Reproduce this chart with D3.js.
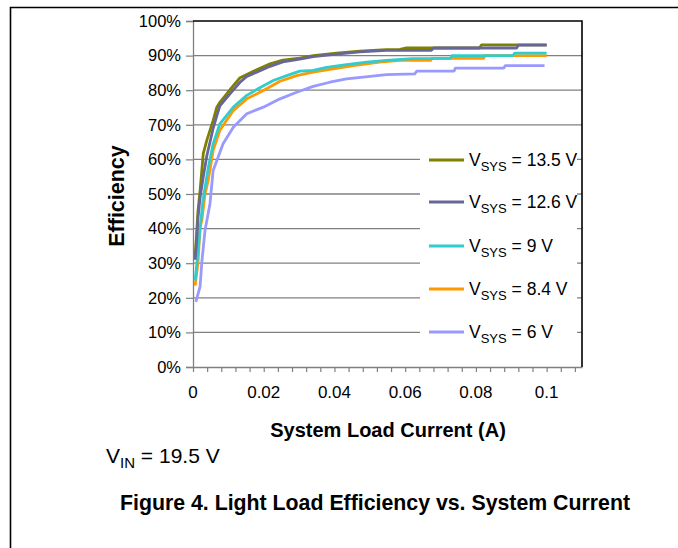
<!DOCTYPE html>
<html><head><meta charset="utf-8">
<script src="https://cdn.jsdelivr.net/npm/d3@7"></script>
<style>
body{margin:0;background:#fff;}
text{font-family:"Liberation Sans",Arial,sans-serif;fill:#000;}
</style></head>
<body>
<svg id="c" width="678" height="548"></svg>
<script>
// ---- data ----
const seriesNames = ["13.5 V", "12.6 V", "9 V", "8.4 V", "6 V"];
const seriesColors = ["#808000", "#666699", "#33CCCC", "#FF9900", "#9999FF"];

const current135 = [0.0006,0.001,0.0014,0.002,0.0029,0.0039,0.0057,0.0067,0.0076,0.0105,0.0133,0.018,0.0218,0.0254,0.0302,0.034,0.0406,0.0472,0.0547,0.0585,0.0604,0.081,0.0816,0.1];
const eff135     = [32,38,45,51,61.7,65.5,71.3,75,76.5,80.2,83.6,85.9,87.6,88.7,89.3,90,90.7,91.3,91.7,91.8,92.2,92.2,93.1,93.1];

const current126 = [0.0006,0.001,0.0014,0.002,0.0029,0.0039,0.0057,0.0067,0.0076,0.0105,0.0133,0.0152,0.018,0.0218,0.0254,0.0302,0.034,0.0406,0.0472,0.0547,0.0674,0.068,0.0915,0.092,0.1];
const eff126     = [31,36,43,49,55,61,69,72.5,75.5,79,82.3,84,85.2,86.9,88.2,89,89.7,90.4,91.1,91.5,91.5,92.2,92.2,93,93];

const current9   = [0.0006,0.0014,0.002,0.0028,0.0039,0.0044,0.0057,0.0076,0.0114,0.0152,0.0189,0.0227,0.0265,0.0302,0.034,0.0378,0.0434,0.0491,0.0547,0.0621,0.0728,0.0732,0.0904,0.091,0.1];
const eff9       = [25,33,40,48,55,58,64.5,70.3,75.1,78.5,80.7,82.8,84.2,85.5,85.7,86.6,87.4,88.1,88.6,89.1,89.2,90,90,90.7,90.7];

const current84  = [0.0006,0.0014,0.002,0.0025,0.0034,0.0043,0.0057,0.0076,0.0095,0.0114,0.0152,0.0199,0.0246,0.0293,0.034,0.0396,0.0453,0.0528,0.0585,0.0672,0.0676,0.0822,0.0826,0.1];
const eff84      = [23.5,30,40.4,42.4,50,54,62.6,68.4,71.3,74.1,77.5,79.9,82.6,84.2,85.2,86.2,87.1,88.1,88.6,88.6,89.2,89.2,90,90];

const current6   = [0.0008,0.002,0.0025,0.0034,0.0048,0.0057,0.0085,0.0114,0.0152,0.0199,0.0246,0.0293,0.034,0.0387,0.0434,0.0481,0.0547,0.0627,0.0633,0.0738,0.0742,0.0879,0.0883,0.0994];
const eff6       = [18.8,23.2,30.4,39.5,47.2,56.8,64.5,69.3,73.2,75.1,77.5,79.4,81.1,82.3,83.3,83.8,84.5,84.7,85.5,85.5,86.4,86.4,87.1,87.1];

const xTickLabels = [0, 0.02, 0.04, 0.06, 0.08, 0.1];
const yTickLabels = [0,10,20,30,40,50,60,70,80,90,100];

const seriesX = [current135, current126, current9, current84, current6];
const seriesY = [eff135, eff126, eff9, eff84, eff6];

// ---- layout ----
const svg = d3.select("#c");
const L = 193, R = 582, T = 21, B = 367;
const x = d3.scaleLinear().domain([0, 0.11]).range([L, R]);
const y = d3.scaleLinear().domain([0, 100]).range([B, T]);

// outer frame
svg.append("path").attr("d", `M10.5,548 V7.5 H678`).attr("fill","none").attr("stroke","#000").attr("stroke-width",1.6);

// gridlines
svg.append("g").selectAll("line").data(yTickLabels.filter(d=>d>0 && d<100)).join("line")
  .attr("x1", L).attr("x2", R).attr("y1", d=>y(d)).attr("y2", d=>y(d))
  .attr("stroke","#808080").attr("stroke-width",1.3);

// y axis
const yAxis = d3.axisLeft(y).tickValues(yTickLabels).tickFormat(d=>d+"%").tickSize(7).tickPadding(5);
const gy = svg.append("g").attr("transform",`translate(${L},0)`).call(yAxis);
gy.select(".domain").attr("stroke","#808080").attr("stroke-width",1.3);
gy.selectAll(".tick line").attr("stroke","#808080").attr("stroke-width",1.2);
gy.selectAll(".tick text").attr("font-size",16.5).attr("font-family","Liberation Sans, Arial, sans-serif").attr("fill","#000");

// x axis (minor ticks)
const minorTicks = d3.range(0, 0.1101, 0.004);
const xAxis = d3.axisBottom(x).tickValues(minorTicks).tickFormat("").tickSize(5).tickSizeOuter(0);
const gx = svg.append("g").attr("transform",`translate(0,${B})`).call(xAxis);
gx.select(".domain").attr("stroke","#808080").attr("stroke-width",1.3);
gx.selectAll(".tick line").attr("stroke","#808080").attr("stroke-width",1.2);
svg.append("g").selectAll("text").data(xTickLabels).join("text")
  .attr("x", d=>x(d)).attr("y", B+31).attr("text-anchor","middle").attr("font-size",17)
  .text(d=>d3.format("")(d));

// plot top & right border
svg.append("path").attr("d",`M${L},${T} H${R} V${B}`).attr("fill","none").attr("stroke","#000").attr("stroke-width",1.6);

// lines
const line = d3.line().x(d=>x(d[0])).y(d=>y(d[1]));
// draw back to front: 6V, 8.4V, 9V, 13.5V, 12.6V
[4,3,2,0,1].forEach(i=>{
  const pts = seriesX[i].map((v,k)=>[v, seriesY[i][k]]);
  svg.append("path").datum(pts).attr("d", line).attr("fill","none")
    .attr("stroke", seriesColors[i]).attr("stroke-width",2.8).attr("stroke-linejoin","round");
});

// legend
svg.append("rect").attr("x",420).attr("y",146).attr("width",157).attr("height",200).attr("fill","#fff");
const legY = [160, 202, 246, 289, 332];
seriesNames.forEach((n,i)=>{
  const g = svg.append("g");
  g.append("line").attr("x1",429).attr("x2",464).attr("y1",legY[i]).attr("y2",legY[i])
    .attr("stroke",seriesColors[i]).attr("stroke-width",2.8);
  const t = g.append("text").attr("x",469).attr("y",legY[i]+6).attr("font-size",17.5);
  t.append("tspan").text("V");
  t.append("tspan").attr("font-size",13).attr("dy",5).text("SYS");
  t.append("tspan").attr("dy",-5).text(" = " + n);
});

// axis titles
svg.append("text").attr("transform",`translate(124,196) rotate(-90)`).attr("text-anchor","middle")
  .attr("font-size",21.5).attr("font-weight","bold").text("Efficiency");
svg.append("text").attr("x",388).attr("y",437).attr("text-anchor","middle")
  .attr("font-size",20).attr("font-weight","bold").text("System Load Current (A)");

// V_IN note
const vin = svg.append("text").attr("x",106).attr("y",463).attr("font-size",21);
vin.append("tspan").text("V");
vin.append("tspan").attr("font-size",15).attr("dy",5).text("IN");
vin.append("tspan").attr("dy",-5).text(" = 19.5 V");

// figure caption
svg.append("text").attr("x",375).attr("y",510).attr("text-anchor","middle")
  .attr("font-size",21.3).attr("font-weight","bold").text("Figure 4. Light Load Efficiency vs. System Current");
</script>
</body></html>
